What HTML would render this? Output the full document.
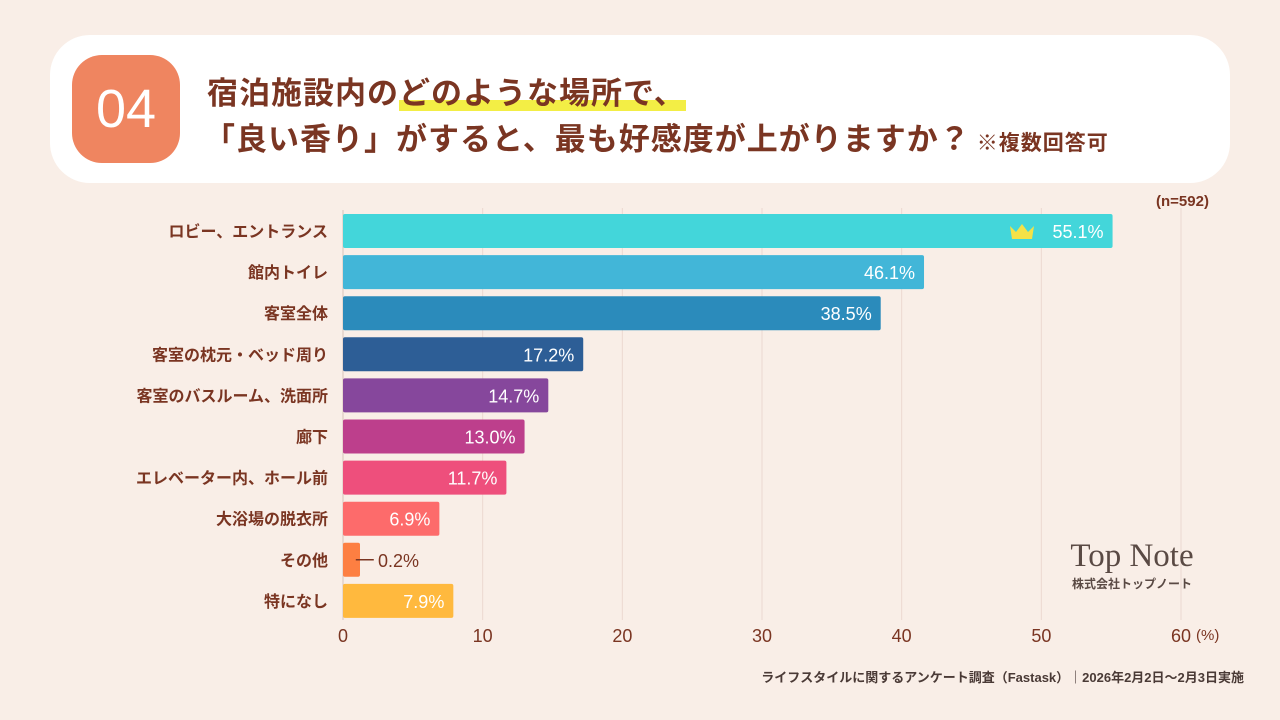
<!DOCTYPE html>
<html><head><meta charset="utf-8"><style>
body{margin:0;width:1280px;height:720px;background:#f9eee7;font-family:"Liberation Sans","Noto Sans CJK JP",sans-serif;overflow:hidden;position:relative}
.card{position:absolute;left:50px;top:35px;width:1180px;height:148px;background:#fff;border-radius:40px}
.badge{position:absolute;left:72px;top:55px;width:108px;height:108px;background:#ef8560;border-radius:30px;color:#fff;font-size:54px;display:flex;align-items:center;justify-content:center}
.t{position:absolute;color:#7a3522;font-size:31px;font-weight:bold;white-space:nowrap;letter-spacing:1px}
.hl{background:linear-gradient(transparent 68%,#f3ee45 68%)}
svg{position:absolute;left:0;top:0}
</style></head><body>
<div class="card"></div>
<div class="badge">04</div>
<div class="t" style="left:207px;top:68px">宿泊施設内の<span class="hl">どのような場所で、</span></div>
<div class="t" style="left:204px;top:114px">「良い香り」がすると、最も好感度が上がりますか？<span style="font-size:21px;margin-left:6px">※複数回答可</span></div>
<svg id="chart" width="1280" height="720"></svg>
<script>
const categories=["ロビー、エントランス","館内トイレ","客室全体","客室の枕元・ベッド周り","客室のバスルーム、洗面所","廊下","エレベーター内、ホール前","大浴場の脱衣所","その他","特になし"];
const values=[55.1,41.6,38.5,17.2,14.7,13.0,11.7,6.9,0.2,7.9];
const valueLabels=["55.1%","46.1%","38.5%","17.2%","14.7%","13.0%","11.7%","6.9%","0.2%","7.9%"];
const colors=["#43d6da","#42b6d8","#2b8bbb","#2d5e96","#86479c","#bd3f8c","#ee4f7c","#fd6b6b","#fd7f42","#ffb93e"];
const ticks=[0,10,20,30,40,50,60];
const svg=document.getElementById('chart');const NS='http://www.w3.org/2000/svg';
const x=v=>343+v*(1181-343)/60;
const y=i=>231+i*41.1;
function mk(t,a,txt){const e=document.createElementNS(NS,t);for(const k in a)e.setAttribute(k,a[k]);if(txt!=null)e.textContent=txt;svg.appendChild(e);return e;}
ticks.forEach(t=>{
 if(t>0){const g=mk('line',{x1:x(t),x2:x(t),y1:208,y2:620,stroke:'#ecd8d0','stroke-width':1});
 
 }
 const l=mk('text',{x:x(t),y:642,'text-anchor':'middle','font-size':18,fill:'#7a3522'},t);
 
 
});
mk('text',{x:1196,y:640,'font-size':15,fill:'#7a3522','text-anchor':'start'},'(%)');
mk('text',{x:1156,y:206,'font-size':15,'font-weight':'bold',fill:'#7a3522'},'(n=592)');
mk('line',{x1:343,x2:343,y1:210,y2:620,stroke:'#d8c4bb','stroke-width':1});
categories.forEach((c,i)=>{
 const w=Math.max(x(values[i])-343,17);
 const b=mk('rect',{x:343,y:y(i)-17,width:w,height:34,rx:2,fill:colors[i]});
 
 
 const cl=mk('text',{x:328,y:y(i)+6,'text-anchor':'end','font-size':16,'font-weight':'bold',fill:'#7a3522'},c);
 
 
 let vl;
 if(values[i]<3){
  mk('line',{x1:x(values[i])+10,x2:x(values[i])+28,y1:y(i),y2:y(i),stroke:'#7a3522','stroke-width':1.5});
  vl=mk('text',{x:343+w+18,y:y(i)+7,'font-size':18,fill:'#7a3522'},valueLabels[i]);
 }else{
  vl=mk('text',{x:343+w-9,y:y(i)+7,'text-anchor':'end','font-size':18,fill:'#fff'},valueLabels[i]);
 }
 
 
});
const cr=mk('path',{d:'M1012 239 L1010 226 L1016 232 L1022 224 L1028 232 L1034 226 L1032 239 Z',fill:'#f4e247'});


mk('text',{x:1132,y:566,'text-anchor':'middle','font-size':33,fill:'#5a4a44','font-family':'Liberation Serif, serif'},'Top Note');
mk('text',{x:1132,y:588,'text-anchor':'middle','font-size':12,'font-weight':'bold',fill:'#5a4a44'},'株式会社トップノート');
const f=mk('text',{x:1244,y:682,'text-anchor':'end','font-size':13,'font-weight':'bold',fill:'#4a3a36'},'ライフスタイルに関するアンケート調査（Fastask）｜2026年2月2日〜2月3日実施');


</script>
</body></html>
